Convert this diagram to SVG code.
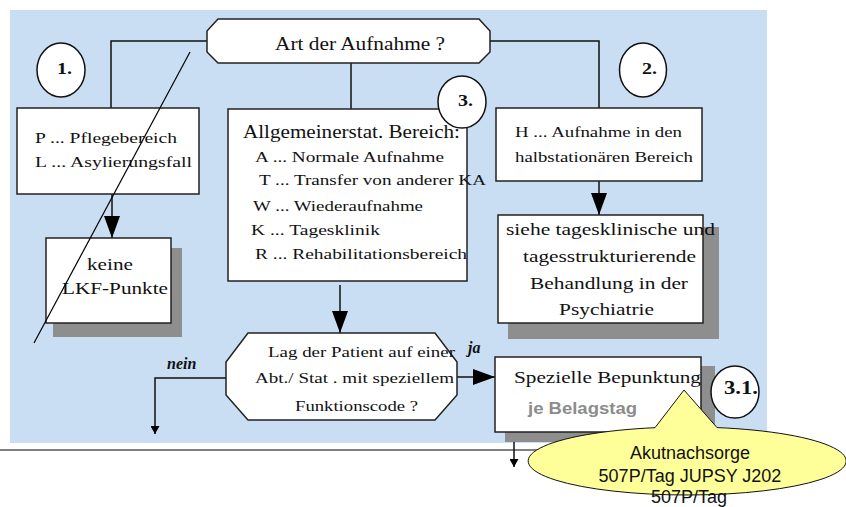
<svg xmlns="http://www.w3.org/2000/svg" width="846" height="507" viewBox="0 0 846 507">
<defs>
<style>
.s{font-family:"Liberation Serif","Times New Roman",serif;fill:#111}
.b{font-weight:bold}
.box{fill:#fff;stroke:#222;stroke-width:1.5}
.shd{fill:#8e8e8e}
.ln{fill:none;stroke:#111;stroke-width:1.5}
.sa{font-family:"Liberation Sans",Arial,sans-serif}
</style>
<marker id="big" viewBox="0 0 22 16" markerWidth="22" markerHeight="16" refX="22" refY="8" markerUnits="userSpaceOnUse" orient="auto"><path d="M0,0 L22,8 L0,16 z" fill="#000"/></marker>
<marker id="sm" viewBox="0 0 8 9" markerWidth="8" markerHeight="9" refX="8" refY="4.5" markerUnits="userSpaceOnUse" orient="auto"><path d="M0,0 L8,4.5 L0,9 z" fill="#000"/></marker>
</defs>
<rect x="0" y="0" width="846" height="507" fill="#fff"/>
<rect x="10" y="10" width="757" height="433" fill="#C9DEF2"/>
<line x1="0" y1="450" x2="600" y2="450" stroke="#808080" stroke-width="2"/>

<g id="connectors">
<polyline class="ln" points="207,41 111,41 111,108"/>
<polyline class="ln" points="490,41 599,41 599,108"/>
<line class="ln" x1="351" y1="63" x2="351" y2="109"/>
<line class="ln" x1="112" y1="194" x2="112" y2="238" marker-end="url(#big)"/>
<line class="ln" x1="599" y1="181" x2="599" y2="215" marker-end="url(#big)"/>
<line class="ln" x1="340" y1="285" x2="340" y2="333" marker-end="url(#big)"/>
<line class="ln" x1="457" y1="377" x2="495" y2="377" marker-end="url(#big)"/>
<polyline class="ln" points="226,378 155,378 155,434" marker-end="url(#sm)"/>
<line class="ln" x1="514" y1="432" x2="514" y2="467" marker-end="url(#sm)"/>
<text class="s b" x="167" y="369" font-size="16" font-style="italic">nein</text>
<text class="s b" x="468" y="353" font-size="16" font-style="italic">ja</text>
</g>

<g id="n-art">
<polygon class="box" points="218,19 479,19 490,31 490,52 479,63 218,63 207,52 207,31"/>
<text class="s" x="275" y="50" font-size="19" textLength="170" lengthAdjust="spacingAndGlyphs">Art der Aufnahme ?</text>
</g>

<g id="n-c1">
<ellipse cx="61" cy="70" rx="24" ry="27" fill="#fff" stroke="#111" stroke-width="1.5"/>
<text class="s b" x="64.5" y="74" font-size="16" text-anchor="middle" textLength="15" lengthAdjust="spacingAndGlyphs">1.</text>
</g>
<g id="n-c2">
<ellipse cx="643" cy="70" rx="23.5" ry="27" fill="#fff" stroke="#111" stroke-width="1.5"/>
<text class="s b" x="649.5" y="74" font-size="16" text-anchor="middle" textLength="15" lengthAdjust="spacingAndGlyphs">2.</text>
</g>

<g id="n-pl">
<rect class="box" x="17" y="108" width="182" height="86"/>
<text class="s" x="35" y="143" font-size="15.5" textLength="142" lengthAdjust="spacingAndGlyphs">P ...  Pflegebereich</text>
<text class="s" x="35" y="167" font-size="15.5" textLength="157" lengthAdjust="spacingAndGlyphs">L ...  Asylierungsfall</text>
</g>

<g id="n-allg">
<rect class="box" x="228" y="109" width="239" height="172"/>
<text class="s" x="243" y="138" font-size="19" textLength="217" lengthAdjust="spacingAndGlyphs">Allgemeinerstat. Bereich:</text>
<text class="s" x="255" y="162" font-size="15" textLength="189" lengthAdjust="spacingAndGlyphs">A  ... Normale Aufnahme</text>
<text class="s" x="259" y="185" font-size="15" textLength="227" lengthAdjust="spacingAndGlyphs">T  ... Transfer von anderer KA</text>
<text class="s" x="253" y="211" font-size="15" textLength="170" lengthAdjust="spacingAndGlyphs">W ... Wiederaufnahme</text>
<text class="s" x="251" y="235" font-size="15" textLength="129" lengthAdjust="spacingAndGlyphs">K  ... Tagesklinik</text>
<text class="s" x="255" y="259" font-size="15" textLength="212" lengthAdjust="spacingAndGlyphs">R  ... Rehabilitationsbereich</text>
</g>

<g id="n-c3">
<ellipse cx="462" cy="102" rx="24" ry="26" fill="#fff" stroke="#111" stroke-width="1.5"/>
<text class="s b" x="465.5" y="106" font-size="16" text-anchor="middle" textLength="15" lengthAdjust="spacingAndGlyphs">3.</text>
</g>

<g id="n-h">
<rect class="box" x="496" y="108" width="206" height="73"/>
<text class="s" x="515" y="137" font-size="15.5" textLength="167" lengthAdjust="spacingAndGlyphs">H ... Aufnahme in den</text>
<text class="s" x="515" y="162" font-size="15.5" textLength="178" lengthAdjust="spacingAndGlyphs">halbstationären Bereich</text>
</g>

<g id="n-keine">
<rect class="shd" x="53" y="248" width="129" height="89"/>
<rect class="box" x="46" y="238" width="125" height="85"/>
<text class="s" x="87" y="270" font-size="17.5" textLength="46" lengthAdjust="spacingAndGlyphs">keine</text>
<text class="s" x="62" y="294" font-size="17.5" textLength="106" lengthAdjust="spacingAndGlyphs">LKF-Punkte</text>
</g>

<g id="n-siehe">
<rect class="shd" x="508" y="227" width="211" height="112"/>
<rect class="box" x="498" y="215" width="205" height="108"/>
<text class="s" x="506" y="235" font-size="17.5" textLength="209" lengthAdjust="spacingAndGlyphs">siehe tagesklinische und</text>
<text class="s" x="523" y="262" font-size="17.5" textLength="173" lengthAdjust="spacingAndGlyphs">tagesstrukturierende</text>
<text class="s" x="530" y="289" font-size="17.5" textLength="158" lengthAdjust="spacingAndGlyphs">Behandlung in der</text>
<text class="s" x="559" y="315" font-size="17.5" textLength="95" lengthAdjust="spacingAndGlyphs">Psychiatrie</text>
</g>

<line id="strike" x1="190" y1="52" x2="34" y2="343" stroke="#000" stroke-width="1.2"/>

<g id="n-lag">
<polygon class="box" points="248,333 435,333 457,362 457,395 435,420 248,420 226,395 226,362"/>
<text class="s" x="268" y="357" font-size="15.5" textLength="187" lengthAdjust="spacingAndGlyphs">Lag der Patient auf einer</text>
<text class="s" x="255" y="383" font-size="15.5" textLength="199" lengthAdjust="spacingAndGlyphs">Abt./ Stat . mit speziellem</text>
<text class="s" x="295" y="411" font-size="15.5" textLength="123" lengthAdjust="spacingAndGlyphs">Funktionscode ?</text>
</g>

<g id="n-spez">
<rect class="shd" x="505" y="366" width="210" height="76"/>
<rect class="box" x="495" y="357" width="206" height="75"/>
<text class="s" x="514" y="383" font-size="17.5" textLength="187" lengthAdjust="spacingAndGlyphs">Spezielle Bepunktung</text>
<text class="sa b" x="528" y="414" font-size="16" fill="#8c8c8c" textLength="109" lengthAdjust="spacingAndGlyphs">je Belagstag</text>
</g>

<g id="n-c31">
<ellipse cx="735" cy="392" rx="24" ry="26" fill="#fff" stroke="#111" stroke-width="1.5"/>
<text class="s b" x="741" y="394" font-size="18" text-anchor="middle" textLength="34" lengthAdjust="spacingAndGlyphs">3.1.</text>
</g>

<g id="n-callout">
<path d="M655,427.7 A159,34 0 1 0 717,427.6 L684,390 Z" fill="#FFFF99" stroke="#111" stroke-width="1"/>
<text class="sa" x="690" y="459" font-size="18" text-anchor="middle" fill="#111">Akutnachsorge</text>
<text class="sa" x="690" y="482" font-size="18" text-anchor="middle" fill="#111">507P/Tag JUPSY J202</text>
<text class="sa" x="689" y="503" font-size="18" text-anchor="middle" fill="#111">507P/Tag</text>
</g>
</svg>
